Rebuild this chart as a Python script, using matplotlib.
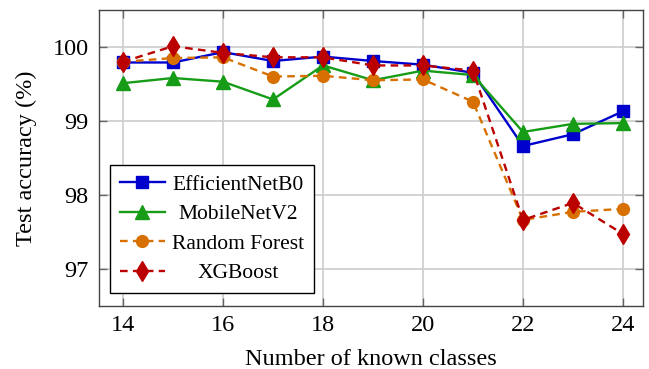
import matplotlib
matplotlib.use("Agg")
import matplotlib.pyplot as plt
from matplotlib.transforms import Bbox

plt.rcParams['font.family'] = ['Liberation Serif', 'DejaVu Serif']
plt.rcParams['lines.scale_dashes'] = False

classes = [14, 15, 16, 17, 18, 19, 20, 21, 22, 23, 24]
effnet = [99.79, 99.79, 99.93, 99.81, 99.87, 99.81, 99.76, 99.65, 98.66, 98.82, 99.13]
mobilenet = [99.51, 99.58, 99.53, 99.29, 99.75, 99.55, 99.68, 99.62, 98.85, 98.96, 98.97]
rforest = [99.80, 99.85, 99.86, 99.60, 99.61, 99.55, 99.56, 99.26, 97.66, 97.77, 97.81]
xgboost = [99.80, 100.01, 99.92, 99.86, 99.86, 99.75, 99.75, 99.68, 97.66, 97.89, 97.47]
xticks = [14, 16, 18, 20, 22, 24]
yticks = [97, 98, 99, 100]
labels = ["EfficientNetB0", "MobileNetV2", "Random Forest", "XGBoost"]

FS = 17.5
LFS = 15.5
fig = plt.figure(figsize=(6.49, 3.69), dpi=100)
ax = fig.add_axes([98.5/649, 1-305.7/369, (643-98.5)/649, (305.7-10)/369])

lw = 1.7
dash = (0, (5.5, 3.8))
ax.plot(classes, effnet, color='#0000cc', lw=lw, marker='s', ms=8.5, label=labels[0], zorder=3)
ax.plot(classes, mobilenet, color='#169c16', lw=lw, marker='^', ms=9.5, label=labels[1], zorder=3)
ax.plot(classes, rforest, color='#d77000', lw=lw, marker='o', ms=8.5, ls=dash, label=labels[2], zorder=3)
ax.plot(classes, xgboost, color='#bb0000', lw=lw, marker='d', ms=10, ls=dash, label=labels[3], zorder=3)

ax.set_xlim(13.51, 24.4)
ax.set_ylim(96.5, 100.5)
ax.set_xticks(xticks)
ax.set_yticks(yticks)
ax.set_xticklabels([str(v) for v in xticks], fontsize=FS)
ax.set_yticklabels([str(v) for v in yticks], fontsize=FS)
ax.grid(True, color='#cccccc', lw=1.2, zorder=0)
ax.set_axisbelow(True)
for s in ax.spines.values():
    s.set_color('#444444')
    s.set_linewidth(1.0)
ax.tick_params(direction='in', length=6, width=1, color='#666666', top=True, right=True, pad=7)

ax.set_xlabel("Number of known classes", fontsize=FS, labelpad=9)
ax.set_ylabel("Test accuracy (%)", fontsize=FS, labelpad=11)

leg = ax.legend(loc='lower left', bbox_to_anchor=(0.021, 0.043), borderaxespad=0,
                fontsize=LFS, frameon=True, fancybox=False, framealpha=1,
                edgecolor='black', handlelength=2.1, handletextpad=0.33,
                labelspacing=0.44, borderpad=0.45)
leg.get_frame().set_linewidth(1.0)

# center legend texts within their column
fig.canvas.draw()
renderer = fig.canvas.get_renderer()
tas = []
for col in leg._legend_handle_box.get_children():
    for row in col.get_children():
        tas.append(row.get_children()[1])
maxw = max(ta.get_bbox(renderer).width for ta in tas)
for ta in tas:
    orig = ta.get_bbox
    def gb(r, orig=orig):
        bb = orig(r)
        sh = (maxw - bb.width) / 2
        return Bbox.from_bounds(bb.x0 - sh, bb.y0, maxw, bb.height)
    ta.get_bbox = gb

fig.savefig("out.png", dpi=100)
